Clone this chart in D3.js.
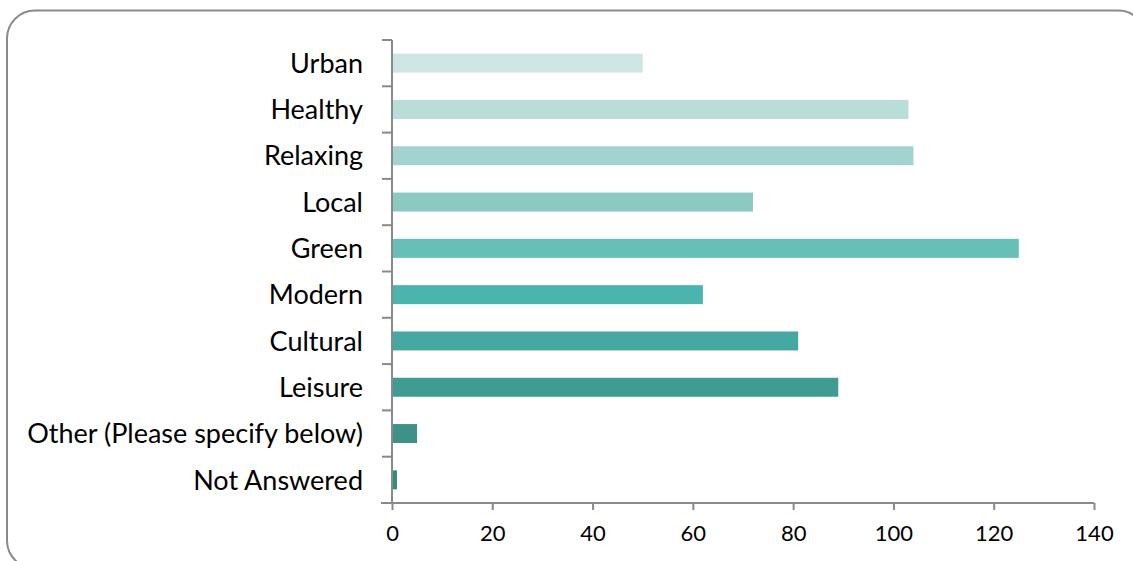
<!DOCTYPE html>
<html lang="en">
<head>
  <meta charset="UTF-8">
  <title>Chart</title>
  <style>
    body { margin: 0; background: #fff; }
    text { font-family: Lato, "Noto Sans", sans-serif; }
  </style>
</head>
<body>
  <div id="svg"></div>
  <script src="https://d3js.org/d3.v7.min.js"></script>
  <script>
    const categories = ['Urban', 'Healthy', 'Relaxing', 'Local', 'Green', 'Modern', 'Cultural', 'Leisure', 'Other (Please specify below)', 'Not Answered']
    const values = [50, 103, 104, 72, 125, 62, 81, 89, 5, 1]
    const colors = ['#cde6e3', '#b9ddd9', '#a3d3cf', '#8dc9c3', '#66c0b7', '#4bb5ad', '#46a8a2', '#409c93', '#3d9288', '#3a8a80']
    const xTicks = [0, 20, 40, 60, 80, 100, 120, 140]

    const width = 1133
    const height = 561
    const svg = d3.select('#svg').append('svg').attr('width', width).attr('height', height)

    // outer frame
    svg.append('rect')
      .attr('x', 7).attr('y', 10.5).attr('width', 1139).attr('height', 558)
      .attr('rx', 28).attr('ry', 28)
      .attr('fill', 'none').attr('stroke', '#8a8a8a').attr('stroke-width', 2)

    const plot = { left: 392, right: 1094, top: 40, bottom: 503 }

    const xScale = d3.scaleLinear().domain([0, 140]).range([plot.left, plot.right])
    const yScale = d3.scaleBand().domain(categories).range([plot.top, plot.bottom]).paddingInner(0.59).paddingOuter(0.295)

    svg.selectAll('rect.bar').data(values).enter().append('rect')
      .attr('class', 'bar')
      .attr('x', xScale(0))
      .attr('y', (d, i) => yScale(categories[i]))
      .attr('width', d => xScale(d) - xScale(0))
      .attr('height', yScale.bandwidth())
      .attr('fill', (d, i) => colors[i])

    // x axis
    const xAxis = d3.axisBottom(xScale).tickValues(xTicks).tickSize(7).tickSizeOuter(0).tickPadding(15)
    const gX = svg.append('g').attr('transform', `translate(0,${plot.bottom})`).call(xAxis)
    gX.select('.domain').attr('stroke', '#898989').attr('stroke-width', 2).attr('d', `M${plot.left - 11},0H${plot.right}`)
    gX.selectAll('.tick line').attr('stroke', '#898989').attr('stroke-width', 2)
    gX.selectAll('.tick text').attr('font-size', '22px').attr('fill', '#000').attr('font-family', 'Lato, sans-serif')

    // y axis: line plus ticks between categories
    const gap = yScale.step() - yScale.bandwidth()
    const bounds = categories.map(c => yScale(c) - gap / 2).concat([plot.bottom])
    svg.append('line')
      .attr('x1', plot.left).attr('x2', plot.left).attr('y1', plot.top).attr('y2', plot.bottom)
      .attr('stroke', '#898989').attr('stroke-width', 2)
    svg.selectAll('line.ytick').data(bounds).enter().append('line')
      .attr('class', 'ytick')
      .attr('x1', plot.left - 10).attr('x2', plot.left).attr('y1', d => d).attr('y2', d => d)
      .attr('stroke', '#898989').attr('stroke-width', 2)

    svg.selectAll('text.cat').data(categories).enter().append('text')
      .attr('class', 'cat')
      .attr('x', 363)
      .attr('y', d => yScale(d) + yScale.bandwidth() / 2)
      .attr('dy', '0.36em')
      .attr('text-anchor', 'end')
      .attr('font-size', '27px')
      .attr('fill', '#000')
      .text(d => d)
  </script>
</body>
</html>
